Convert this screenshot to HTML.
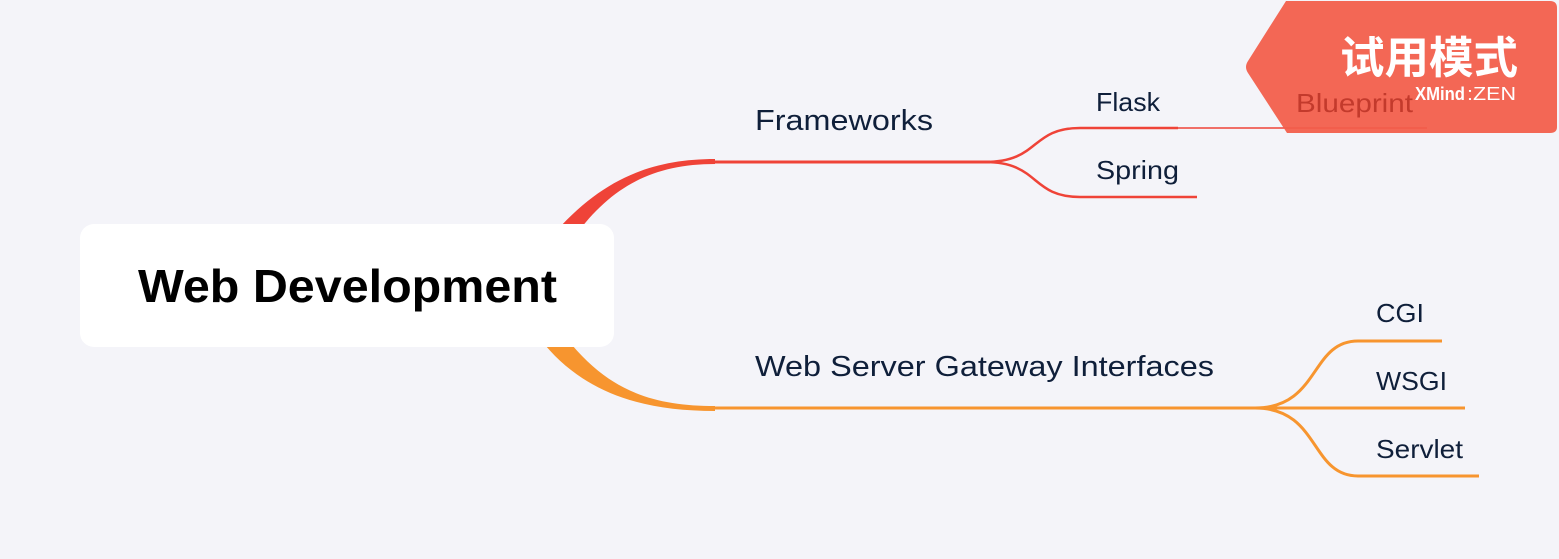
<!DOCTYPE html>
<html><head><meta charset="utf-8"><style>
html,body{margin:0;padding:0;background:#f4f4f9;}
svg{display:block;}
text{font-family:"Liberation Sans","Noto Sans CJK SC",sans-serif;}
</style></head><body>
<svg width="1559" height="559" viewBox="0 0 1559 559" xmlns="http://www.w3.org/2000/svg">
<rect width="1559" height="559" fill="#f4f4f9"/>
<path d="M552,236 C600,180 650,159 715,159 L715,164 C655,164 612,185 575,236 Z" fill="#ef4338"/>
<path d="M715,162 L990,162" stroke="#ef4338" stroke-width="3" fill="none"/>
<path d="M985,162 C1040,162 1030,128 1080,128 L1178,128" stroke="#ef4338" stroke-width="2.5" fill="none"/>
<path d="M985,162 C1040,162 1030,197 1080,197 L1197,197" stroke="#ef4338" stroke-width="2.5" fill="none"/>
<path d="M1178,128 L1427,128" stroke="#ef4338" stroke-width="1.5" fill="none"/>
<path d="M572,345 C612,392 655,406 715,406 L715,411 C640,411 585,392 545,345 Z" fill="#f7952f"/>
<path d="M715,408 L1265,408" stroke="#f7952f" stroke-width="3" fill="none"/>
<path d="M1255,408 C1320,408 1310,341 1358,341 L1442,341" stroke="#f7952f" stroke-width="3" fill="none"/>
<path d="M1255,408 L1465,408" stroke="#f7952f" stroke-width="3" fill="none"/>
<path d="M1255,408 C1320,408 1310,476 1358,476 L1479,476" stroke="#f7952f" stroke-width="3" fill="none"/>
<rect x="80" y="224" width="534" height="123" rx="14" fill="#ffffff"/>
<text x="138" y="302" font-size="46" font-weight="bold" fill="#000" textLength="419" lengthAdjust="spacingAndGlyphs">Web Development</text>
<text x="755" y="130" font-size="29" fill="#0f1f3a" textLength="178" lengthAdjust="spacingAndGlyphs">Frameworks</text>
<text x="755" y="376" font-size="29" fill="#0f1f3a" textLength="459" lengthAdjust="spacingAndGlyphs">Web Server Gateway Interfaces</text>
<text x="1096" y="111" font-size="26" fill="#0f1f3a" textLength="64" lengthAdjust="spacingAndGlyphs">Flask</text>
<text x="1096" y="179" font-size="26" fill="#0f1f3a" textLength="83" lengthAdjust="spacingAndGlyphs">Spring</text>
<text x="1376" y="322" font-size="26" fill="#0f1f3a" textLength="48" lengthAdjust="spacingAndGlyphs">CGI</text>
<text x="1376" y="390" font-size="26" fill="#0f1f3a" textLength="71" lengthAdjust="spacingAndGlyphs">WSGI</text>
<text x="1376" y="458" font-size="26" fill="#0f1f3a" textLength="87" lengthAdjust="spacingAndGlyphs">Servlet</text>
<path d="M1286,1 L1550,1 Q1557,1 1557,8 L1557,127 Q1557,133 1550,133 L1287,133 L1248,73 Q1244,67 1248,61 Z" fill="#f25d4a" opacity="0.94"/>
<text x="1296" y="112" font-size="26" fill="#c33a2c" textLength="117" lengthAdjust="spacingAndGlyphs">Blueprint</text>
<text x="1340" y="73" font-size="44" font-weight="bold" fill="#ffffff" textLength="178" lengthAdjust="spacingAndGlyphs">试用模式</text>
<text x="1415" y="100" font-size="18" font-weight="bold" fill="#ffffff" textLength="50" lengthAdjust="spacingAndGlyphs">XMind</text>
<text x="1467" y="100" font-size="18" fill="#ffffff" textLength="49" lengthAdjust="spacingAndGlyphs">:ZEN</text>
</svg>
</body></html>
